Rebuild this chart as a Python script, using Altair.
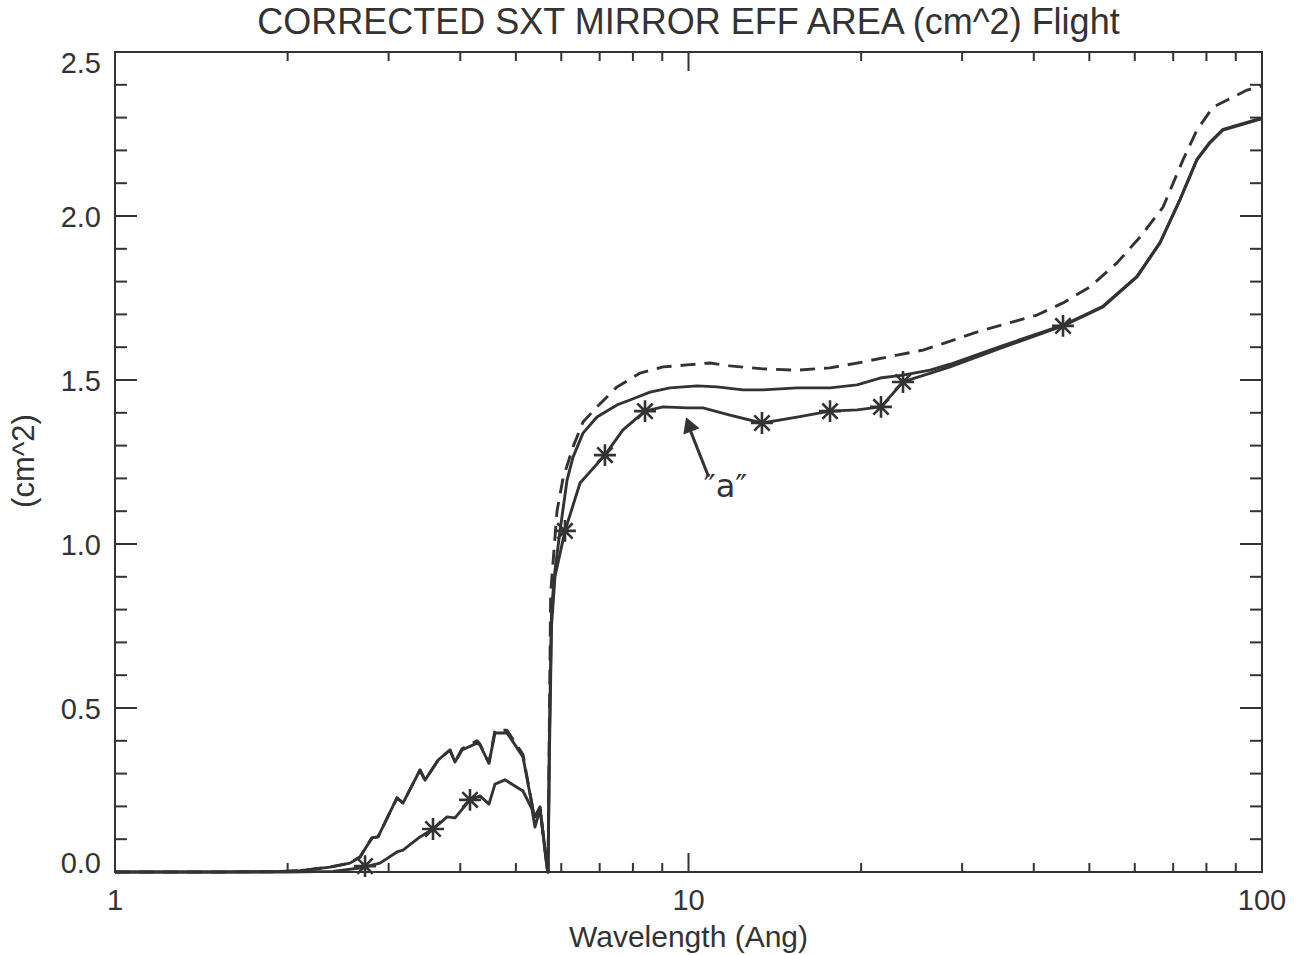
import altair as alt
import pandas as pd

# ---------------- data ----------------
lam_dash = [1.0, 1.5, 1.9, 2.1, 2.371, 2.569, 2.674, 2.806, 2.875, 3.102, 3.178, 3.403, 3.472,
            3.659, 3.838, 3.916, 4.028, 4.277, 4.329, 4.488, 4.598, 4.825, 5.145, 5.356, 5.399,
            5.509, 5.666, 5.69, 5.72, 5.75, 5.898, 6.042, 6.290, 6.547, 6.925, 7.505, 8.232,
            9.028, 9.940, 10.90, 11.81, 13.49, 15.46, 17.65, 20.15, 23.10, 25.64, 32.63, 40.53,
            44.98, 50.12, 55.87, 61.29, 67.21, 72.82, 77.01, 82.13, 94.17, 98.40, 100.0]
area_dash = [0.0, 0.0, 0.001, 0.004, 0.015, 0.027, 0.046, 0.104, 0.107, 0.226, 0.210, 0.311, 0.280,
             0.341, 0.372, 0.335, 0.376, 0.400, 0.390, 0.332, 0.432, 0.432, 0.358, 0.189, 0.168,
             0.198, 0.015, 0.0, 0.45, 0.85, 1.10, 1.20, 1.296, 1.372, 1.418, 1.479, 1.521,
             1.540, 1.546, 1.552, 1.543, 1.534, 1.530, 1.537, 1.555, 1.576, 1.591, 1.652, 1.698,
             1.735, 1.784, 1.857, 1.936, 2.027, 2.171, 2.262, 2.332, 2.384, 2.393, 2.397]

lam_upper = [1.0, 1.5, 1.9, 2.1, 2.371, 2.569, 2.674, 2.806, 2.875, 3.102, 3.178, 3.403, 3.472,
             3.659, 3.838, 3.916, 4.028, 4.277, 4.329, 4.488, 4.598, 4.825, 5.145, 5.356, 5.399,
             5.509, 5.666, 5.69, 5.72, 5.77, 5.851, 5.970, 6.141, 6.290, 6.547, 6.925, 7.505,
             7.906, 8.569, 9.285, 10.35, 11.21, 12.45, 13.49, 15.46, 17.65, 19.67, 21.58, 23.66,
             26.37, 28.58, 34.93, 44.98, 52.82, 60.54, 66.42, 71.95, 77.01, 81.13, 85.50, 98.40, 100.0]
area_upper = [0.0, 0.0, 0.001, 0.004, 0.015, 0.027, 0.046, 0.104, 0.107, 0.226, 0.210, 0.311, 0.280,
              0.341, 0.372, 0.335, 0.372, 0.393, 0.387, 0.332, 0.424, 0.424, 0.351, 0.189, 0.168,
              0.198, 0.015, 0.0, 0.40, 0.80, 0.92, 1.04, 1.195, 1.265, 1.338, 1.387, 1.424,
              1.439, 1.463, 1.476, 1.482, 1.479, 1.470, 1.470, 1.476, 1.476, 1.485, 1.506, 1.515,
              1.530, 1.548, 1.602, 1.667, 1.725, 1.816, 1.920, 2.051, 2.173, 2.225, 2.264, 2.295, 2.298]

lam_lower = [1.0, 2.0, 2.399, 2.674, 2.898, 3.102, 3.178, 3.403, 3.585, 3.793, 3.916, 4.159, 4.329,
             4.488, 4.598, 4.786, 5.145, 5.334, 5.399, 5.509, 5.666, 5.69, 5.72, 5.77, 5.85,
             6.090, 6.470, 7.150, 7.687, 8.398, 9.028, 9.940, 10.60, 11.81, 13.43, 15.46, 17.65,
             19.67, 21.66, 23.66, 28.58, 34.93, 44.98, 52.82, 60.54, 66.42, 71.95, 77.01, 81.13,
             85.50, 98.40, 100.0]
area_lower = [0.0, 0.0, 0.002, 0.012, 0.027, 0.061, 0.067, 0.107, 0.131, 0.168, 0.165, 0.220, 0.232,
              0.207, 0.268, 0.281, 0.247, 0.192, 0.137, 0.192, 0.015, 0.0, 0.35, 0.75, 0.90,
              1.040, 1.186, 1.271, 1.348, 1.405, 1.418, 1.415, 1.415, 1.393, 1.369, 1.387, 1.405,
              1.409, 1.418, 1.494, 1.540, 1.596, 1.665, 1.723, 1.814, 1.918, 2.049, 2.171, 2.223,
              2.262, 2.293, 2.296]

lam_star = [2.729, 3.585, 4.159, 6.090, 7.150, 8.398, 13.43, 17.65, 21.66, 23.66, 44.98]
area_star = [0.018, 0.131, 0.220, 1.040, 1.271, 1.405, 1.369, 1.405, 1.418, 1.494, 1.665]

x_labels = [1, 10, 100]
x_label_text = ["1", "10", "100"]
y_labels = [0.0, 0.5, 1.0, 1.5, 2.0, 2.5]
y_label_text = ["0.0", "0.5", "1.0", "1.5", "2.0", "2.5"]
x_major_ticks = [10]
x_minor_ticks = [2, 3, 4, 5, 6, 7, 8, 9, 20, 30, 40, 50, 60, 70, 80, 90]
y_major_ticks = [0.5, 1.0, 1.5, 2.0]
y_minor_ticks = [0.1, 0.2, 0.3, 0.4, 0.6, 0.7, 0.8, 0.9, 1.1, 1.2, 1.3, 1.4,
                 1.6, 1.7, 1.8, 1.9, 2.1, 2.2, 2.3, 2.4]

title_text = "CORRECTED SXT MIRROR EFF AREA (cm^2) Flight"
x_title_text = "Wavelength (Ang)"
y_title_text = "(cm^2)"

# annotation (arrow to curve, handwritten "a")
arrow_tail = (10.84, 1.205)
arrow_end = (10.08, 1.345)
arrow_head = (10.01, 1.365)
label_pos = (11.6, 1.175)

# ---------------- styling ----------------
W, H = 1147, 820
INK = "#333333"
FONT = "Liberation Sans"
xs = alt.Scale(type="log", domain=[1, 100], nice=False)
ys = alt.Scale(domain=[0, 2.5], nice=False, zero=False)


def X(field):
    return alt.X(field, scale=xs, axis=None)


def Y(field):
    return alt.Y(field, scale=ys, axis=None)


def curve(lam, area, dash=None):
    df = pd.DataFrame({"lam": lam, "area": area})
    kw = dict(color=INK, strokeWidth=2.9, strokeJoin="round")
    if dash:
        kw["strokeDash"] = dash
    return alt.Chart(df).mark_line(**kw).encode(x=X("lam:Q"), y=Y("area:Q"))


dash_line = curve(lam_dash, area_dash, dash=[15, 9])
upper_line = curve(lam_upper, area_upper)
lower_line = curve(lam_lower, area_lower)

ASTERISK = "M0,-1L0,1M-1,0L1,0M-0.7,-0.7L0.7,0.7M-0.7,0.7L0.7,-0.7"
stars = alt.Chart(pd.DataFrame({"lam": lam_star, "area": area_star})).mark_point(
    shape=ASTERISK, filled=False, stroke=INK, strokeWidth=2.6, size=480, opacity=1
).encode(x=X("lam:Q"), y=Y("area:Q"))


def xticks(vals, length):
    df = pd.DataFrame({"t": vals})
    bot = alt.Chart(df).mark_rule(color=INK, strokeWidth=2).encode(
        x=X("t:Q"), y=alt.value(H), y2=alt.value(H - length))
    top = alt.Chart(df).mark_rule(color=INK, strokeWidth=2).encode(
        x=X("t:Q"), y=alt.value(0), y2=alt.value(length))
    return [bot, top]


def yticks(vals, length):
    df = pd.DataFrame({"t": vals})
    left = alt.Chart(df).mark_rule(color=INK, strokeWidth=2).encode(
        y=Y("t:Q"), x=alt.value(0), x2=alt.value(length))
    right = alt.Chart(df).mark_rule(color=INK, strokeWidth=2).encode(
        y=Y("t:Q"), x=alt.value(W), x2=alt.value(W - length))
    return [left, right]


ticks = xticks(x_major_ticks, 19) + xticks(x_minor_ticks, 9) + \
    yticks(y_major_ticks, 22) + yticks(y_minor_ticks, 12)

# tick labels as text marks placed through the scales
xlab = alt.Chart(pd.DataFrame({"v": x_labels, "t": x_label_text})).mark_text(
    font=FONT, fontSize=29, color=INK, align="center", baseline="middle").encode(
    x=X("v:Q"), y=alt.value(H + 29), text="t:N")


def ylab(vals, texts, baseline, dy):
    return alt.Chart(pd.DataFrame({"v": vals, "t": texts})).mark_text(
        font=FONT, fontSize=29, color=INK, align="right", baseline=baseline, dy=dy).encode(
        y=Y("v:Q"), x=alt.value(-14), text="t:N")


ylabs = [ylab(y_labels[:1], y_label_text[:1], "alphabetic", 1),
         ylab(y_labels[1:-1], y_label_text[1:-1], "middle", 2),
         ylab(y_labels[-1:], y_label_text[-1:], "alphabetic", 21)]

xtitle = alt.Chart(pd.DataFrame({"t": [x_title_text]})).mark_text(
    font=FONT, fontSize=30, color=INK, align="center", baseline="middle").encode(
    x=alt.value(W / 2), y=alt.value(H + 66), text="t:N")
ytitle = alt.Chart(pd.DataFrame({"t": [y_title_text]})).mark_text(
    font=FONT, fontSize=31, color=INK, align="center", baseline="middle", angle=270).encode(
    x=alt.value(-90), y=alt.value(H / 2 - 1), text="t:N")

arrow = alt.Chart(pd.DataFrame({"x": [arrow_tail[0]], "y": [arrow_tail[1]],
                                "x2": [arrow_end[0]], "y2": [arrow_end[1]]})).mark_rule(
    color=INK, strokeWidth=3).encode(x=X("x:Q"), y=Y("y:Q"), x2="x2:Q", y2="y2:Q")
head = alt.Chart(pd.DataFrame({"x": [arrow_head[0]], "y": [arrow_head[1]]})).mark_point(
    shape="triangle-up", filled=True, color=INK, size=300, angle=339, opacity=1).encode(
    x=X("x:Q"), y=Y("y:Q"))
label = alt.Chart(pd.DataFrame({"x": [label_pos[0]], "y": [label_pos[1]],
                                "t": ["\u2033a\u2033"]})).mark_text(
    font="DejaVu Sans", fontSize=32, color=INK, align="center", baseline="middle").encode(
    x=X("x:Q"), y=Y("y:Q"), text="t:N")

chart = alt.layer(dash_line, upper_line, lower_line, stars, *ticks, xlab, *ylabs,
                  xtitle, ytitle, arrow, head, label).properties(
    width=W, height=H,
    padding={"left": 115, "top": 52, "right": 41, "bottom": 83},
    autosize=alt.AutoSizeParams(type="none"),
    title=alt.Title(title_text, fontSize=36, font=FONT,
                    fontWeight="normal", color=INK, offset=8, anchor="middle", frame="group"),
    background="white",
).configure_view(stroke=INK, strokeWidth=2)

chart.save("out.html", embed_options={"renderer": "svg", "actions": False})
